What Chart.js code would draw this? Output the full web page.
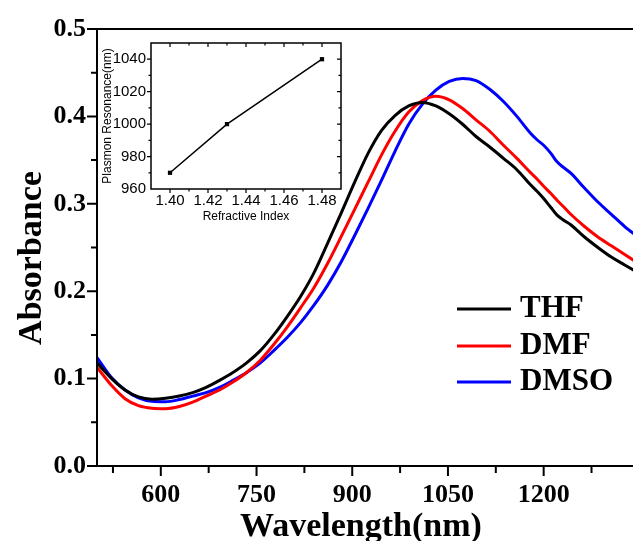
<!DOCTYPE html>
<html><head><meta charset="utf-8">
<script src="https://cdn.jsdelivr.net/npm/chart.js@4.4.1/dist/chart.umd.min.js"></script>
<style>
html,body{margin:0;padding:0;background:#fff;overflow:hidden;}
#wrap{position:relative;width:633px;height:541px;background:#fff;}
#main{position:absolute;left:0;top:0;}
#inset{position:absolute;left:98px;top:29px;}
</style></head><body>
<div id="wrap">
<canvas id="main" width="633" height="541"></canvas>
<canvas id="inset" width="250" height="205"></canvas>
</div>
<script>
const wavelengths = [500,523,544,565,586,607.5,629,650,671,692,713,734.5,756,777,798,819,840,861.5,883,904,925,946,967,988.5,1010,1031,1052,1073,1094,1115.5,1137,1158,1179,1190,1200,1211,1221,1232,1242.5,1264,1285,1306,1327,1348];
const thfAbs  = [0.118,0.100,0.087,0.079,0.0765,0.0775,0.080,0.084,0.090,0.098,0.107,0.118,0.132,0.150,0.171,0.194,0.221,0.255,0.290,0.325,0.358,0.384,0.401,0.412,0.416,0.412,0.403,0.391,0.377,0.365,0.352,0.339,0.322,0.314,0.306,0.296,0.287,0.281,0.276,0.262,0.250,0.239,0.230,0.221];
const dmfAbs  = [0.113,0.092,0.077,0.069,0.066,0.0655,0.068,0.073,0.080,0.087,0.096,0.107,0.121,0.139,0.159,0.181,0.204,0.232,0.263,0.294,0.325,0.356,0.383,0.405,0.418,0.423,0.419,0.409,0.396,0.383,0.367,0.352,0.336,0.328,0.320,0.312,0.304,0.296,0.288,0.274,0.262,0.252,0.242,0.232];
const dmsoAbs = [0.124,0.101,0.087,0.078,0.074,0.0735,0.076,0.080,0.084,0.090,0.098,0.107,0.118,0.132,0.147,0.164,0.184,0.207,0.234,0.264,0.295,0.327,0.360,0.391,0.414,0.430,0.440,0.4435,0.441,0.431,0.417,0.400,0.381,0.373,0.367,0.358,0.348,0.341,0.335,0.318,0.302,0.288,0.274,0.262];
const seriesLabels = ['THF','DMF','DMSO'];
const seriesColors = ['#000000','#ff0000','#0000ff'];
const xTickValues = [600,750,900,1050,1200];
const yTickValues = [0,0.1,0.2,0.3,0.4,0.5];
const xTitle = 'Wavelength(nm)';
const yTitle = 'Absorbance';

const refractiveIndex = [1.40,1.43,1.48];
const plasmonResonance = [970,1000,1040];
const insetXTicks = [1.40,1.42,1.44,1.46,1.48];
const insetYTicks = [960,980,1000,1020,1040];
const insetXTitle = 'Refractive Index';
const insetYTitle = 'Plasmon Resonance(nm)';

const SERIF = "'Liberation Serif', 'Times New Roman', serif";
const SANS = "'Liberation Sans', Arial, sans-serif";
const seriesValues = [thfAbs, dmfAbs, dmsoAbs];

const mainDeco = {
  id:'mainDeco',
  afterDraw(chart){
    const {ctx, chartArea:a, scales:{x, y}} = chart;
    ctx.save();
    ctx.strokeStyle = '#000'; ctx.lineWidth = 2; ctx.lineCap = 'butt';
    ctx.beginPath();
    ctx.moveTo(a.left, a.top - 1); ctx.lineTo(a.left, a.bottom + 1);
    ctx.moveTo(a.left - 1, a.bottom); ctx.lineTo(a.right, a.bottom);
    ctx.moveTo(a.left - 1, a.top); ctx.lineTo(a.right, a.top);
    ctx.stroke();
    ctx.beginPath();
    yTickValues.forEach((v, i) => {
      const p = y.getPixelForValue(v);
      ctx.moveTo(a.left - 10, p); ctx.lineTo(a.left, p);
      if (i < yTickValues.length - 1) {
        const m = y.getPixelForValue((v + yTickValues[i + 1]) / 2);
        ctx.moveTo(a.left - 6, m); ctx.lineTo(a.left, m);
      }
    });
    const step = xTickValues[1] - xTickValues[0];
    xTickValues.forEach(v => {
      const p = x.getPixelForValue(v);
      ctx.moveTo(p, a.bottom); ctx.lineTo(p, a.bottom + 10);
    });
    for (let v = xTickValues[0] - step / 2; v <= x.max; v += step) {
      if (v < x.min) continue;
      const p = x.getPixelForValue(v);
      ctx.moveTo(p, a.bottom); ctx.lineTo(p, a.bottom + 7);
    }
    ctx.stroke();
    ctx.fillStyle = '#000';
    ctx.font = 'bold 34px ' + SERIF;
    ctx.textAlign = 'center'; ctx.textBaseline = 'alphabetic';
    ctx.fillText(xTitle, 361, 536);
    ctx.save();
    ctx.translate(41, 258); ctx.rotate(-Math.PI / 2);
    ctx.fillText(yTitle, 0, 0);
    ctx.restore();
    const legY = [309, 346, 382];
    ctx.font = 'bold 31px ' + SERIF;
    ctx.textAlign = 'left';
    chart.data.datasets.forEach((ds, i) => {
      ctx.strokeStyle = ds.borderColor; ctx.lineWidth = 3;
      ctx.beginPath(); ctx.moveTo(457, legY[i]); ctx.lineTo(511, legY[i]); ctx.stroke();
      ctx.fillStyle = '#000';
      ctx.fillText(ds.label, 520, legY[i] + 7.5);
    });
    ctx.restore();
  }
};

new Chart(document.getElementById('main'), {
  type: 'line',
  data: {
    datasets: seriesLabels.map((lab, i) => ({
      label: lab,
      data: wavelengths.map((w, j) => ({x: w, y: seriesValues[i][j]})),
      borderColor: seriesColors[i],
      backgroundColor: seriesColors[i],
      borderWidth: 3,
      pointRadius: 0,
      cubicInterpolationMode: 'monotone',
      fill: false
    }))
  },
  options: {
    responsive: false, animation: false,
    layout: {padding: {top: 29, right: 0, left: 0, bottom: 0}},
    plugins: {legend: {display: false}, tooltip: {enabled: false}},
    scales: {
      x: {
        type: 'linear', min: 500, max: 1340,
        grid: {display: false, drawTicks: false}, border: {display: false},
        afterBuildTicks: s => { s.ticks = xTickValues.map(v => ({value: v})); },
        afterFit: s => { s.height = 75; },
        ticks: {autoSkip: false, maxRotation: 0, padding: 14, color: '#000',
          font: {family: SERIF, size: 26, weight: 'bold'}, callback: v => String(v)}
      },
      y: {
        type: 'linear', min: 0, max: 0.5,
        grid: {display: false, drawTicks: false}, border: {display: false},
        afterBuildTicks: s => { s.ticks = yTickValues.map(v => ({value: v})); },
        afterFit: s => { s.width = 97; },
        ticks: {autoSkip: false, padding: 11, color: '#000',
          font: {family: SERIF, size: 26, weight: 'bold'}, callback: v => Number(v).toFixed(1)}
      }
    }
  },
  plugins: [mainDeco]
});

const insetDeco = {
  id: 'insetDeco',
  afterDraw(chart){
    const {ctx, chartArea:a, scales:{x, y}} = chart;
    ctx.save();
    ctx.strokeStyle = '#000'; ctx.lineWidth = 1.5;
    ctx.strokeRect(a.left, a.top, a.right - a.left, a.bottom - a.top);
    ctx.lineWidth = 1.2;
    ctx.beginPath();
    const xs = insetXTicks[1] - insetXTicks[0];
    for (let k = -1; k <= insetXTicks.length * 2; k++) {
      const v = insetXTicks[0] + k * xs / 2;
      if (v <= x.min + 1e-6 || v >= x.max - 1e-6) continue;
      const len = (k % 2 === 0) ? 4 : 2.5;
      const p = x.getPixelForValue(v);
      ctx.moveTo(p, a.bottom); ctx.lineTo(p, a.bottom + len);
      ctx.moveTo(p, a.top); ctx.lineTo(p, a.top + len);
    }
    const ys = insetYTicks[1] - insetYTicks[0];
    for (let k = 0; k <= insetYTicks.length * 2; k++) {
      const v = insetYTicks[0] + k * ys / 2;
      if (v <= y.min + 1e-6 || v >= y.max - 1e-6) continue;
      const len = (k % 2 === 0) ? 4 : 2.5;
      const p = y.getPixelForValue(v);
      ctx.moveTo(a.left - len, p); ctx.lineTo(a.left, p);
      ctx.moveTo(a.right - len, p); ctx.lineTo(a.right, p);
    }
    ctx.stroke();
    ctx.restore();
  }
};

new Chart(document.getElementById('inset'), {
  type: 'line',
  data: {
    datasets: [{
      label: insetYTitle,
      data: refractiveIndex.map((n, i) => ({x: n, y: plasmonResonance[i]})),
      borderColor: '#000', backgroundColor: '#000', borderWidth: 1.5,
      pointStyle: 'rect', pointRadius: 3, pointBorderWidth: 0, pointBackgroundColor: '#000',
      tension: 0, fill: false
    }]
  },
  options: {
    responsive: false, animation: false,
    layout: {padding: {top: 3, right: 7, left: 0, bottom: 0}},
    plugins: {legend: {display: false}, tooltip: {enabled: false}},
    scales: {
      x: {
        type: 'linear', min: 1.39, max: 1.49,
        grid: {display: false, drawTicks: false}, border: {display: false},
        afterBuildTicks: s => { s.ticks = insetXTicks.map(v => ({value: v})); },
        afterFit: s => { s.height = 45; },
        ticks: {autoSkip: false, maxRotation: 0, padding: 3, color: '#000',
          font: {family: SANS, size: 15}, callback: v => Number(v).toFixed(2)},
        title: {display: true, text: insetXTitle, color: '#000',
          font: {family: SANS, size: 12}, padding: {top: 0, bottom: 10}}
      },
      y: {
        type: 'linear', min: 960, max: 1050,
        grid: {display: false, drawTicks: false}, border: {display: false},
        afterBuildTicks: s => { s.ticks = insetYTicks.map(v => ({value: v})); },
        afterFit: s => { s.width = 53; },
        ticks: {autoSkip: false, padding: 5, color: '#000',
          font: {family: SANS, size: 15}, callback: v => String(v)},
        title: {display: true, text: insetYTitle, color: '#000',
          font: {family: SANS, size: 12}, padding: {top: 2.5, bottom: 0}}
      }
    }
  },
  plugins: [insetDeco]
});
</script>
</body></html>
